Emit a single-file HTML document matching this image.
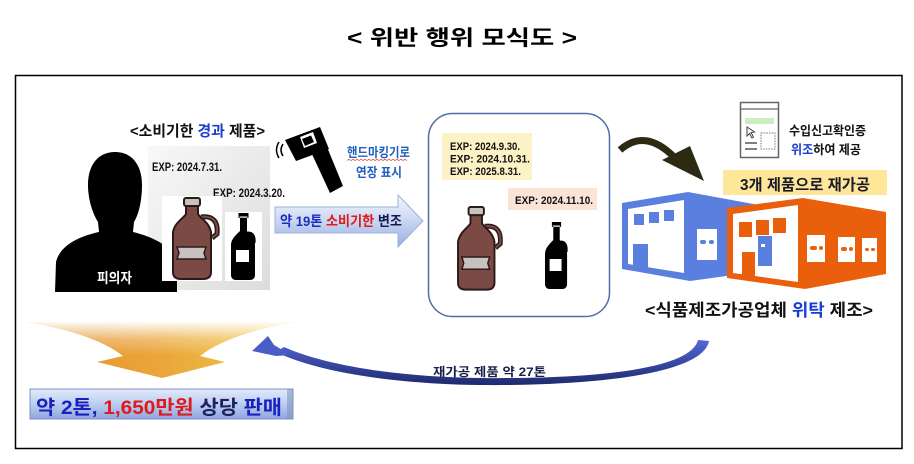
<!DOCTYPE html>
<html><head><meta charset="utf-8"><style>
html,body{margin:0;padding:0;background:#fff;}
svg{display:block;}
text{font-family:"Liberation Sans","Noto Sans CJK KR",sans-serif;font-weight:700;}
</style></head><body>
<svg width="914" height="464" viewBox="0 0 914 464" xmlns="http://www.w3.org/2000/svg">
<defs>
<linearGradient id="gpanel" x1="0" y1="0" x2="1" y2="1"><stop offset="0" stop-color="#f8f8f8"/><stop offset="1" stop-color="#dcdcdc"/></linearGradient>
<linearGradient id="garrow" x1="0" y1="0" x2="0" y2="1"><stop offset="0" stop-color="#f6f8fd"/><stop offset="0.5" stop-color="#c9d6f2"/><stop offset="1" stop-color="#97aee0"/></linearGradient>
<linearGradient id="gsale" x1="0" y1="0" x2="0" y2="1"><stop offset="0" stop-color="#e2eafb"/><stop offset="0.5" stop-color="#bccdf1"/><stop offset="1" stop-color="#8ea6de"/></linearGradient>
<linearGradient id="gfanH" x1="0" y1="0" x2="1" y2="0"><stop offset="0" stop-color="#e48f2c"/><stop offset="0.5" stop-color="#eaa63a"/><stop offset="1" stop-color="#f2cb4c"/></linearGradient>
<linearGradient id="gfanV" x1="0" y1="0" x2="0" y2="1"><stop offset="0" stop-color="#fff" stop-opacity="0.95"/><stop offset="0.3" stop-color="#fff" stop-opacity="0.3"/><stop offset="0.6" stop-color="#fff" stop-opacity="0"/></linearGradient>
<linearGradient id="gcurve" x1="0" y1="0" x2="0" y2="1"><stop offset="0" stop-color="#5468d8"/><stop offset="1" stop-color="#1e2a6e"/></linearGradient>
</defs>

<!-- title -->
<text x="347" y="45" font-size="21" textLength="230" lengthAdjust="spacingAndGlyphs" fill="#000">&lt; 위반 행위 모식도 &gt;</text>

<!-- main border -->
<rect x="15.5" y="75.5" width="886.5" height="373" fill="none" stroke="#000" stroke-width="1.5"/>

<!-- left heading -->
<text x="130" y="136" font-size="15" textLength="135" lengthAdjust="spacingAndGlyphs" fill="#111">&lt;소비기한 <tspan fill="#1a3fd0">경과</tspan> 제품&gt;</text>

<!-- grey panel -->
<rect x="148" y="146" width="122" height="144" fill="url(#gpanel)"/>

<!-- person -->
<path d="M115,152 C98,152 88,165 88,185 C88,200 93,214 98,222 L99,232 C80,236 60,245 56,262 L55,292 L177,292 L177,262 C172,245 150,236 133,232 L134,222 C139,214 142,200 142,185 C142,165 132,152 115,152 Z" fill="#000"/>
<text x="97" y="283" font-size="14" textLength="35" lengthAdjust="spacingAndGlyphs" fill="#fff">피의자</text>

<!-- EXP labels left -->
<text x="152" y="171" font-size="11.5" textLength="70" lengthAdjust="spacingAndGlyphs" fill="#111">EXP: 2024.7.31.</text>
<text x="213" y="197" font-size="11.5" textLength="72" lengthAdjust="spacingAndGlyphs" fill="#111">EXP: 2024.3.20.</text>

<!-- white boxes behind bottles -->
<rect x="162" y="196" width="60" height="85" fill="#fff"/>
<rect x="225" y="212" width="37" height="69" fill="#fff"/>

<!-- jug symbol -->
<g transform="translate(173,198)">
  <path d="M28,19 Q46,17 44,36 L39,40" fill="none" stroke="#2a1a1a" stroke-width="5"/>
  <path d="M28,19 Q46,17 44,36 L39,40" fill="none" stroke="#7b4a44" stroke-width="2"/>
  <path d="M13,7 L25,7 L25,16 C27,20 36,24 38,34 L38,74 C38,79 35,81 30,81 L8,81 C3,81 0,79 0,74 L0,34 C2,24 11,20 13,16 Z" fill="#7b4a44" stroke="#2a1a1a" stroke-width="2"/>
  <rect x="11" y="0" width="16" height="8" rx="2" fill="#c8c2bc" stroke="#2a1a1a" stroke-width="2"/>
  <path d="M4,49 L33,49 L31,55 L33,61 L4,61 L6,55 Z" fill="#c9c0c0" stroke="#2a1a1a" stroke-width="1.5"/>
</g>
<!-- bottle symbol -->
<g transform="translate(231,213)">
  <path d="M9,5 L16,5 L16,18 C20,22 24,26 24,32 L24,62 C24,65 22,67 19,67 L5,67 C2,67 0,65 0,62 L0,32 C0,26 5,22 9,18 Z" fill="#000"/>
  <path d="M17,20 Q24,20 23,30" fill="none" stroke="#000" stroke-width="3"/>
  <rect x="7.5" y="0" width="10" height="5" fill="#000"/>
  <rect x="8.5" y="3.5" width="8" height="1.2" fill="#fff"/>
  <rect x="5" y="37" width="13" height="12" fill="#fff"/>
</g>

<!-- handheld marker device -->
<g fill="#000">
  <polygon points="285,140 320,127 329,149 296,161"/>
  <polygon points="311,152 327,147 343,186 330,193"/>
  <polygon points="300,137 313,132 317,143 304,148" fill="#fff"/>
  <polygon points="302,139 311,135.5 314,142 305,146"/>
  <path d="M283,144 Q279,150 283,156" fill="none" stroke="#000" stroke-width="1.5"/>
  <path d="M279,142 Q274,150 279,158" fill="none" stroke="#000" stroke-width="1.5"/>
</g>
<text x="347" y="157" font-size="13" textLength="63" lengthAdjust="spacingAndGlyphs" fill="#1f5fbf">핸드마킹기로</text>
<path d="M347,160.5 l2,-1.2 l2,1.2 l2,-1.2 l2,1.2 l2,-1.2 l2,1.2 l2,-1.2 l2,1.2 l2,-1.2 l2,1.2 l2,-1.2 l2,1.2 l2,-1.2 l2,1.2 l2,-1.2 l2,1.2 l2,-1.2 l2,1.2 l2,-1.2 l2,1.2 l2,-1.2 l2,1.2 l2,-1.2 l2,1.2 l2,-1.2 l2,1.2 l2,-1.2 l2,1.2 l2,-1.2 l2,1.2" fill="none" stroke="#e03030" stroke-width="0.7"/>
<text x="356" y="177" font-size="13" textLength="46" lengthAdjust="spacingAndGlyphs" fill="#1f5fbf">연장 표시</text>

<!-- big arrow -->
<polygon points="275,207 398,207 398,195 423,221 398,247 398,233 275,233" fill="url(#garrow)" stroke="#9cb0dc" stroke-width="1"/>
<text x="280" y="226" font-size="14" textLength="122" lengthAdjust="spacingAndGlyphs" fill="#1a2fc0">약 19톤 <tspan fill="#e01a1a">소비기한</tspan> <tspan fill="#1a1a50">변조</tspan></text>

<!-- rounded box -->
<rect x="428.5" y="113.5" width="181" height="203" rx="24" ry="24" fill="#fff" stroke="#4f6fa8" stroke-width="1.5"/>
<rect x="442" y="133" width="90" height="47" fill="#fdf2c6"/>
<text x="450" y="150" font-size="11" textLength="70" lengthAdjust="spacingAndGlyphs" fill="#111">EXP: 2024.9.30.</text>
<text x="450" y="162.5" font-size="11" textLength="80" lengthAdjust="spacingAndGlyphs" fill="#111">EXP: 2024.10.31.</text>
<text x="450" y="175" font-size="11" textLength="71" lengthAdjust="spacingAndGlyphs" fill="#111">EXP: 2025.8.31.</text>
<rect x="508" y="188" width="89" height="22" fill="#fbe3d5"/>
<text x="515" y="204" font-size="11" textLength="78" lengthAdjust="spacingAndGlyphs" fill="#111">EXP: 2024.11.10.</text>

<g transform="translate(458,207) scale(0.96,1.02)">
  <path d="M28,19 Q46,17 44,36 L39,40" fill="none" stroke="#2a1a1a" stroke-width="5"/>
  <path d="M28,19 Q46,17 44,36 L39,40" fill="none" stroke="#7b4a44" stroke-width="2"/>
  <path d="M13,7 L25,7 L25,16 C27,20 36,24 38,34 L38,74 C38,79 35,81 30,81 L8,81 C3,81 0,79 0,74 L0,34 C2,24 11,20 13,16 Z" fill="#7b4a44" stroke="#2a1a1a" stroke-width="2"/>
  <rect x="11" y="0" width="16" height="8" rx="2" fill="#c8c2bc" stroke="#2a1a1a" stroke-width="2"/>
  <path d="M4,49 L33,49 L31,55 L33,61 L4,61 L6,55 Z" fill="#c9c0c0" stroke="#2a1a1a" stroke-width="1.5"/>
</g>
<g transform="translate(545,222) scale(0.92,1)">
  <path d="M9,5 L16,5 L16,18 C20,22 24,26 24,32 L24,62 C24,65 22,67 19,67 L5,67 C2,67 0,65 0,62 L0,32 C0,26 5,22 9,18 Z" fill="#000"/>
  <path d="M17,20 Q24,20 23,30" fill="none" stroke="#000" stroke-width="3"/>
  <rect x="7.5" y="0" width="10" height="5" fill="#000"/>
  <rect x="8.5" y="3.5" width="8" height="1.2" fill="#fff"/>
  <rect x="5" y="37" width="13" height="12" fill="#fff"/>
</g>

<!-- dark curved arrow -->
<path d="M620,150 Q645,128 674,157" fill="none" stroke="#2d2a14" stroke-width="7" stroke-linecap="butt"/>
<polygon points="662,160 690,146 704,181" fill="#2d2a14"/>

<!-- document icon -->
<rect x="740.5" y="102.5" width="38" height="55" fill="#fff" stroke="#666" stroke-width="1.5"/>
<line x1="740" y1="109" x2="779" y2="109" stroke="#666" stroke-width="1.2"/>
<rect x="745" y="118" width="29" height="6" fill="#c9efc0"/>
<path d="M747,127 L747,136 L749.5,133.5 L752,138 L753.5,137 L751,132.5 L754.5,132 Z" fill="#fff" stroke="#444" stroke-width="1"/>
<rect x="761" y="133" width="14" height="16" fill="none" stroke="#777" stroke-width="1" stroke-dasharray="1.5,1.2"/>
<line x1="745" y1="143" x2="757" y2="143" stroke="#555" stroke-width="1.5"/>
<line x1="745" y1="149" x2="757" y2="149" stroke="#555" stroke-width="1.5"/>
<text x="789" y="135" font-size="12.5" textLength="77" lengthAdjust="spacingAndGlyphs" fill="#111">수입신고확인증</text>
<text x="791" y="154" font-size="12.5" textLength="70" lengthAdjust="spacingAndGlyphs" fill="#111"><tspan fill="#1a3fd0">위조</tspan>하여 제공</text>

<!-- yellow label -->
<rect x="723" y="170" width="164" height="25" fill="#ffe79a"/>
<text x="740" y="190" font-size="15.5" textLength="130" lengthAdjust="spacingAndGlyphs" fill="#1a1a2a">3개 제품으로 재가공</text>

<!-- blue building -->
<polygon points="622,203 688,192 770,207 770,270 690,281 622,269" fill="#5b7fde"/>
<polygon points="628,209 684,200 684,273 628,264" fill="#fff"/>
<rect x="634" y="214" width="10" height="11" fill="#5b7fde"/>
<rect x="649" y="212" width="10" height="11" fill="#5b7fde"/>
<rect x="664" y="210" width="10" height="11" fill="#5b7fde"/>
<rect x="633" y="244" width="15" height="24" fill="#5b7fde"/>
<rect x="697" y="229" width="20" height="31" fill="#fff"/>
<rect x="700" y="240" width="6" height="4" rx="2" fill="#5b7fde"/>
<rect x="709" y="240" width="5" height="4" rx="2" fill="#5b7fde"/>

<!-- orange building -->
<polygon points="727,208 803,198 886,212 886,274 805,289 727,278" fill="#ea5f0c"/>
<polygon points="733,214 798,205 798,282 733,273" fill="#fff"/>
<rect x="758" y="236" width="14" height="30" fill="#5b7fde"/>
<rect x="761" y="244" width="4" height="3" fill="#fff"/>
<rect x="739" y="222" width="13" height="15" fill="#ea5f0c"/>
<rect x="756" y="220" width="13" height="15" fill="#ea5f0c"/>
<rect x="773" y="218" width="13" height="15" fill="#ea5f0c"/>
<rect x="742" y="252" width="13" height="26" fill="#ea5f0c"/>
<rect x="807" y="235" width="18" height="27" fill="#fff"/>
<rect x="838" y="237" width="17" height="25" fill="#fff"/>
<rect x="862" y="238" width="15" height="24" fill="#fff"/>
<rect x="810" y="246" width="7" height="4" rx="2" fill="#ea5f0c"/>
<rect x="819" y="246" width="4" height="4" rx="2" fill="#ea5f0c"/>
<rect x="841" y="247" width="6" height="4" rx="2" fill="#ea5f0c"/>
<rect x="849" y="247" width="4" height="4" rx="2" fill="#ea5f0c"/>
<rect x="865" y="248" width="4" height="3" rx="1.5" fill="#ea5f0c"/>
<rect x="871" y="248" width="4" height="3" rx="1.5" fill="#ea5f0c"/>

<text x="645" y="316" font-size="17" textLength="228" lengthAdjust="spacingAndGlyphs" fill="#111">&lt;식품제조가공업체 <tspan fill="#1a3fd0">위탁</tspan> 제조&gt;</text>

<!-- orange fan arrow -->
<path d="M28,322 Q95,334 123,356 L97,362 L162,378 L225,362 L200,356 Q228,334 294,322 Z" fill="url(#gfanH)"/>
<path d="M28,322 Q95,334 123,356 L97,362 L162,378 L225,362 L200,356 Q228,334 294,322 Z" fill="url(#gfanV)"/>

<!-- blue curved arrow -->
<path d="M709,341 C702,378 570,386 480,385 C390,384 315,371 276,352 L284,347 C322,364 392,377 480,378 C578,379 690,372 698,340 Z" fill="url(#gcurve)"/>
<polygon points="252,351 268,336 274,345 291,355 276,356" fill="#4a5cc8"/>
<text x="433" y="376" font-size="12" textLength="113" lengthAdjust="spacingAndGlyphs" fill="#1a1f4a">재가공 제품 약 27톤</text>

<!-- sale box -->
<rect x="30" y="389" width="263" height="30" fill="url(#gsale)" stroke="#7d90c4" stroke-width="1"/>
<polygon points="287,389 293,389 293,419 287,419" fill="#8394be" opacity="0.6"/>
<text x="36" y="414" font-size="19.5" textLength="246" lengthAdjust="spacingAndGlyphs" fill="#1a20c0">약 2톤, <tspan fill="#e01a1a">1,650만원</tspan> <tspan fill="#202060">상당</tspan> 판매</text>
</svg>
</body></html>
